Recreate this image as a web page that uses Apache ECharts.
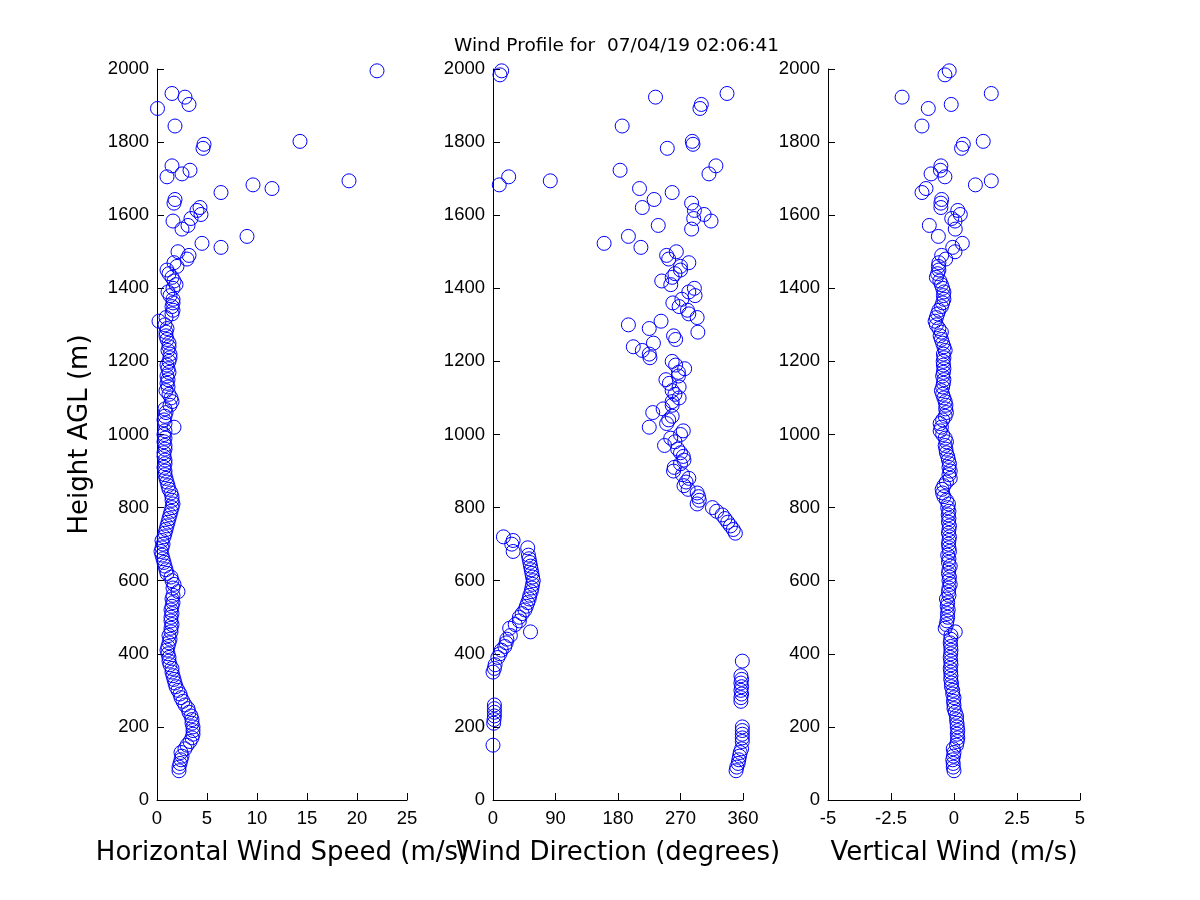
<!DOCTYPE html>
<html>
<head>
<meta charset="utf-8">
<script src="https://cdn.jsdelivr.net/npm/echarts@6/dist/echarts.min.js"></script>
<style>
  html, body { margin: 0; padding: 0; background: #fff; }
  #chart { width: 1200px; height: 900px; }
</style>
</head>
<body>
<div id="chart"></div>
<script>
// heights (m AGL) shared by the three panels
var heights = [
  80, 90, 100, 110, 120, 130, 140, 150, 160, 170,
  180, 190, 200, 210, 220, 230, 240, 250, 260, 270,
  280, 290, 300, 310, 320, 330, 340, 350, 360, 370,
  380, 390, 400, 410, 420, 430, 440, 450, 460, 470,
  480, 490, 500, 510, 520, 530, 540, 550, 560, 570,
  580, 590, 600, 610, 620, 630, 640, 650, 660, 670,
  680, 690, 700, 710, 720, 730, 740, 750, 760, 770,
  780, 790, 800, 810, 820, 830, 840, 850, 860, 870,
  880, 890, 900, 910, 920, 930, 940, 950, 960, 970,
  980, 990, 1000, 1010, 1020, 1030, 1040, 1050, 1060, 1070,
  1080, 1090, 1100, 1110, 1120, 1130, 1140, 1150, 1160, 1170,
  1180, 1190, 1200, 1210, 1220, 1230, 1240, 1250, 1260, 1270,
  1280, 1290, 1300, 1310, 1320, 1330, 1340, 1350, 1360, 1370,
  1380, 1390, 1400, 1410, 1420, 1430, 1440, 1450, 1460, 1470,
  1480, 1490, 1500,
  1512, 1523, 1542, 1562, 1572, 1584, 1591, 1602, 1613, 1621,
  1633, 1643, 1662, 1673, 1683, 1694, 1705, 1713, 1723, 1735,
  1783, 1794, 1802, 1844, 1892, 1903, 1923, 1933, 1984, 1995
];

// horizontal wind speed (m/s)
var speed = [
  2.2, 2.2, 2.3, 2.4, 2.5, 2.4, 2.8, 3.0, 3.3, 3.5,
  3.6, 3.6, 3.6, 3.5, 3.5, 3.4, 3.2, 3.1, 2.8, 2.6,
  2.4, 2.3, 2.1, 1.9, 1.8, 1.7, 1.6, 1.5, 1.5, 1.3,
  1.2, 1.2, 1.1, 1.0, 1.1, 1.2, 1.3, 1.2, 1.4, 1.4,
  1.5, 1.4, 1.4, 1.5, 1.4, 1.5, 1.6, 1.5, 1.6, 2.1,
  1.6, 1.7, 1.5, 1.4, 1.0, 0.9, 0.8, 0.7, 0.6, 0.5,
  0.4, 0.5, 0.6, 0.5, 0.7, 0.8, 0.9, 1.0, 1.1, 1.2,
  1.3, 1.4, 1.5, 1.6, 1.5, 1.5, 1.4, 1.2, 1.1, 1.0,
  0.9, 0.8, 0.8, 0.7, 0.8, 0.8, 0.7, 0.7, 0.8, 0.8,
  0.7, 0.8, 0.7, 0.8, 1.7, 0.8, 0.7, 0.8, 0.9, 0.8,
  1.3, 1.5, 1.4, 1.2, 0.9, 1.1, 1.0, 1.1, 1.0, 1.2,
  1.1, 1.0, 1.2, 1.3, 1.3, 1.1, 1.2, 1.2, 1.0, 0.9,
  0.9, 1.0, 0.8, 0.2, 0.9, 1.5, 1.6, 1.5, 1.6, 1.6,
  1.3, 1.1, 1.6, 1.9, 1.7, 1.5, 1.2, 1.0, 2.0, 1.7,
  3.0, 3.2, 2.1,
  6.4, 4.5, 9.0, 2.5, 3.1, 1.6, 3.4, 4.4, 4.0, 4.3,
  1.7, 1.8, 6.4, 11.5, 9.6, 19.2, 1.0, 2.5, 3.3, 1.5,
  4.6, 4.7, 14.3, 1.8, 0.05, 3.2, 2.8, 1.5, null, 22.0
];

// wind direction (degrees)
var direction = [
  350, 351, 353, 354, 355, 356, 358, 0, 359, 359,
  359, 359, 359, 1, 1.5, 2, 2, 2, 2, 357,
  357, 358, 357, 358, 357, 358, 357, 0, 2, 3,
  359, 7, 10, 12, 17, 19, 20, 25, 54, 24,
  32, 38, 38, 42, 46, 48, 50, 52, 53, 55,
  56, 57, 58, 57, 56, 55, 54, 53, 52, 51,
  29, 50, 27, 29, 15, 349, 346, 342, 338, 334,
  330, 322, 316, 294, 297, 296, 294, 281, 275, 278,
  282, 273, 260, 261, 270, 275, 274, 270, 266, 247,
  262, 256, 270, 274, 225, 250, 253, 258, 230, 245,
  258, 258, 268, 262, 258, 268, 254, 249, 267, 267,
  276, 263, 258, 226, 225, 215, 202, 231, 263, 260,
  295, 225, 195, 242, 294, 282, 280, 268, 259, 272,
  291, 282, 290, 256, 243, 258, 262, 270, 270, 282,
  253, 250, 264,
  213, 160, 195, 286, 238, 314, 289, 304, 290, 215,
  286, 232, 258, 211, 9, 82.5, 22.6, 311, 183, 321,
  251, 288, 287, 186, 298, 300, 234, 337, 10, 12.5
];

// vertical wind (m/s)
var vertical = [
  0.0, -0.03, -0.03, -0.05, -0.02, 0.0, -0.03, 0.1, 0.13, 0.15,
  0.13, 0.15, 0.13, 0.12, 0.1, 0.1, 0.05, 0.0, 0.0, -0.02,
  0.0, -0.05, -0.05, -0.1, -0.1, -0.13, -0.12, -0.13, -0.15, -0.12,
  -0.13, -0.15, -0.13, -0.12, -0.13, -0.15, -0.13, -0.12, 0.05, -0.35,
  -0.3, -0.28, -0.25, -0.26, -0.23, -0.27, -0.25, -0.3, -0.2, -0.22,
  -0.2, -0.15, -0.2, -0.18, -0.22, -0.2, -0.15, -0.22, -0.2, -0.25,
  -0.18, -0.2, -0.22, -0.2, -0.18, -0.22, -0.2, -0.18, -0.22, -0.2,
  -0.23, -0.2, -0.25, -0.22, -0.3, -0.4, -0.45, -0.47, -0.4, -0.3,
  -0.15, -0.2, -0.15, -0.2, -0.18, -0.22, -0.25, -0.3, -0.32, -0.35,
  -0.3, -0.35, -0.45, -0.55, -0.5, -0.55, -0.45, -0.35, -0.3, -0.33,
  -0.32, -0.35, -0.4, -0.45, -0.5, -0.45, -0.42, -0.4, -0.45, -0.42,
  -0.4, -0.42, -0.43, -0.4, -0.42, -0.35, -0.4, -0.45, -0.5, -0.55,
  -0.5, -0.6, -0.7, -0.75, -0.7, -0.65, -0.6, -0.5, -0.45, -0.4,
  -0.42, -0.4, -0.45, -0.5, -0.56, -0.7, -0.65, -0.6, -0.62, -0.6,
  -0.33, -0.49, 0.04,
  -0.05, 0.33, -0.62, 0.05, -0.98, 0.04, -0.09, 0.25, 0.15, -0.52,
  -0.52, -0.49, -1.27, -1.11, 0.85, 1.48, -0.36, -0.91, -0.54, -0.52,
  0.3, 0.37, 1.16, -1.27, -1.02, -0.11, -2.06, 1.48, -0.36, -0.19
];

var titleText = 'Wind Profile for  07/04/19 02:06:41';
var xNames = ['Horizontal Wind Speed (m/s)', 'Wind Direction (degrees)', 'Vertical Wind (m/s)'];
var xRanges = [[0, 25, 5], [0, 360, 90], [-5, 5, 2.5]];
var yName = 'Height AGL (m)';

var chart = echarts.init(document.getElementById('chart'));
var font = '"Liberation Sans", Arial, Helvetica, sans-serif';
var wideFont = '"DejaVu Sans", "Liberation Sans", Arial, sans-serif';

function toPoints(values) {
  var res = [];
  for (var i = 0; i < heights.length; i++) {
    if (values[i] !== null && values[i] !== undefined) {
      res.push([values[i], heights[i]]);
    }
  }
  return res;
}

var gridPos = [[157, 250], [493, 250], [828, 252]];
var grids = [], xAxes = [], yAxes = [], series = [];
var valueSets = [speed, direction, vertical];

gridPos.forEach(function(g, i) {
  grids.push({ left: g[0], width: g[1], top: 69, height: 731 });
  xAxes.push({
    type: 'value',
    gridIndex: i,
    min: xRanges[i][0],
    max: xRanges[i][1],
    interval: xRanges[i][2],
    name: xNames[i],
    nameLocation: 'middle',
    nameGap: 40,
    nameTextStyle: { color: '#000', fontSize: 26, fontFamily: wideFont },
    axisLine: { onZero: false, lineStyle: { color: '#000', width: 1 } },
    axisTick: { inside: true, length: 7, lineStyle: { color: '#000' } },
    axisLabel: { color: '#000', fontSize: 18.5, fontFamily: font, margin: 9 },
    splitLine: { show: false }
  });
  yAxes.push({
    type: 'value',
    gridIndex: i,
    min: 0,
    max: 2000,
    interval: 200,
    name: i === 0 ? yName : '',
    nameLocation: 'middle',
    nameGap: 64,
    nameTextStyle: { color: '#000', fontSize: 26, fontFamily: wideFont },
    axisLine: { show: true, onZero: false, lineStyle: { color: '#000', width: 1 } },
    axisTick: { show: true, inside: true, length: 7, lineStyle: { color: '#000' } },
    axisLabel: {
      color: '#000', fontSize: 18.5, fontFamily: font, margin: 8,
      formatter: function(v) { return String(v); }
    },
    splitLine: { show: false }
  });
  series.push({
    type: 'scatter',
    xAxisIndex: i,
    yAxisIndex: i,
    symbol: 'circle',
    symbolSize: 14,
    clip: false,
    itemStyle: { color: 'rgba(0,0,0,0)', borderColor: '#0000ff', borderWidth: 1, opacity: 1 },
    data: toPoints(valueSets[i])
  });
});

var option = {
  backgroundColor: '#fff',
  animation: false,
  title: {
    text: titleText,
    left: 449,
    top: 32,
    textStyle: { color: '#000', fontSize: 18.5, fontWeight: 'normal', fontFamily: wideFont }
  },
  grid: grids,
  xAxis: xAxes,
  yAxis: yAxes,
  series: series
};

chart.setOption(option);
</script>
</body>
</html>
